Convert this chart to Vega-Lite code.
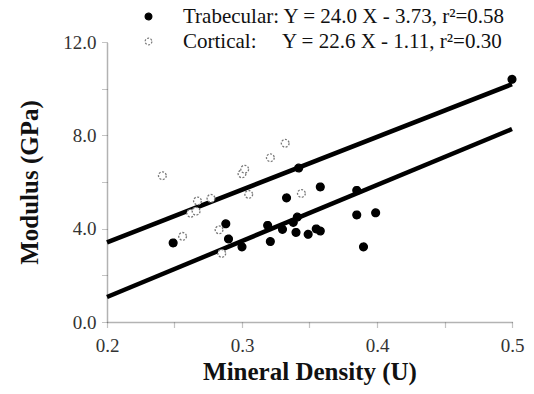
{
  "$schema": "https://vega.github.io/schema/vega-lite/v6.json",
  "width": 405,
  "height": 280,
  "autosize": {"type": "none"},
  "padding": {"left": 107, "top": 42, "right": 22, "bottom": 72},
  "background": "white",
  "config": {
    "view": {"stroke": null},
    "font": "Liberation Serif",
    "style": {"guide-label": {"font": "Liberation Serif"}, "guide-title": {"font": "Liberation Serif"}},
    "axis": {"labelFont": "Liberation Serif", "titleFont": "Liberation Serif"},
    "legend": {"labelFont": "Liberation Serif", "labelLimit": 0}
  },
  "datasets": {
    "points": [
      {"group": "Trabecular", "u": 0.249, "modulus": 3.39},
      {"group": "Trabecular", "u": 0.288, "modulus": 4.21},
      {"group": "Trabecular", "u": 0.290, "modulus": 3.56},
      {"group": "Trabecular", "u": 0.300, "modulus": 3.22},
      {"group": "Trabecular", "u": 0.319, "modulus": 4.14},
      {"group": "Trabecular", "u": 0.321, "modulus": 3.45},
      {"group": "Trabecular", "u": 0.330, "modulus": 3.97},
      {"group": "Trabecular", "u": 0.333, "modulus": 5.32},
      {"group": "Trabecular", "u": 0.338, "modulus": 4.27},
      {"group": "Trabecular", "u": 0.341, "modulus": 4.50},
      {"group": "Trabecular", "u": 0.340, "modulus": 3.84},
      {"group": "Trabecular", "u": 0.342, "modulus": 6.60},
      {"group": "Trabecular", "u": 0.349, "modulus": 3.76},
      {"group": "Trabecular", "u": 0.355, "modulus": 3.99},
      {"group": "Trabecular", "u": 0.358, "modulus": 3.90},
      {"group": "Trabecular", "u": 0.358, "modulus": 5.79},
      {"group": "Trabecular", "u": 0.385, "modulus": 5.64},
      {"group": "Trabecular", "u": 0.385, "modulus": 4.59},
      {"group": "Trabecular", "u": 0.399, "modulus": 4.68},
      {"group": "Trabecular", "u": 0.390, "modulus": 3.22},
      {"group": "Trabecular", "u": 0.500, "modulus": 10.4},
      {"group": "Cortical", "u": 0.241, "modulus": 6.27},
      {"group": "Cortical", "u": 0.256, "modulus": 3.67},
      {"group": "Cortical", "u": 0.262, "modulus": 4.66},
      {"group": "Cortical", "u": 0.266, "modulus": 4.75},
      {"group": "Cortical", "u": 0.267, "modulus": 5.19},
      {"group": "Cortical", "u": 0.277, "modulus": 5.30},
      {"group": "Cortical", "u": 0.283, "modulus": 3.95},
      {"group": "Cortical", "u": 0.285, "modulus": 2.94},
      {"group": "Cortical", "u": 0.300, "modulus": 6.35},
      {"group": "Cortical", "u": 0.302, "modulus": 6.55},
      {"group": "Cortical", "u": 0.305, "modulus": 5.47},
      {"group": "Cortical", "u": 0.321, "modulus": 7.04},
      {"group": "Cortical", "u": 0.332, "modulus": 7.66},
      {"group": "Cortical", "u": 0.344, "modulus": 5.51}
    ],
    "fits": [
      {"group": "Trabecular", "u": 0.2, "modulus": 1.07},
      {"group": "Trabecular", "u": 0.5, "modulus": 8.27},
      {"group": "Cortical", "u": 0.2, "modulus": 3.41},
      {"group": "Cortical", "u": 0.5, "modulus": 10.19}
    ]
  },
  "encoding": {
    "x": {
      "field": "u",
      "type": "quantitative",
      "scale": {"domain": [0.2, 0.5], "nice": false, "zero": false},
      "axis": {
        "title": "Mineral Density (U)",
        "values": [0.2, 0.25, 0.3, 0.35, 0.4, 0.45, 0.5],
        "labelExpr": "round(datum.value * 100) % 10 == 0 ? format(datum.value, '.1f') : ''",
        "grid": false,
        "domainColor": "#666",
        "domainDash": [1, 1],
        "domainWidth": 1.5,
        "tickColor": "#888",
        "tickDash": [1, 1],
        "tickWidth": 1.2,
        "tickSize": 6,
        "labelFont": "Liberation Serif",
        "labelFontSize": 19,
        "labelColor": "#333",
        "labelPadding": 8,
        "labelFlush": false,
        "titleFont": "Liberation Serif",
        "titleFontSize": 25,
        "titleFontWeight": "bold",
        "titleColor": "#111",
        "titlePadding": 4
      }
    },
    "y": {
      "field": "modulus",
      "type": "quantitative",
      "scale": {"domain": [0, 12], "nice": false},
      "axis": {
        "title": "Modulus (GPa)",
        "values": [0, 2, 4, 6, 8, 10, 12],
        "labelExpr": "datum.value % 4 == 0 ? format(datum.value, '.1f') : ''",
        "grid": false,
        "domainColor": "#666",
        "domainDash": [1, 1],
        "domainWidth": 1.5,
        "tickColor": "#888",
        "tickDash": [1, 1],
        "tickWidth": 1.2,
        "tickSize": 6,
        "labelFont": "Liberation Serif",
        "labelFontSize": 19,
        "labelColor": "#333",
        "labelPadding": 5,
        "labelFlush": false,
        "titleFont": "Liberation Serif",
        "titleFontSize": 25,
        "titleFontWeight": "bold",
        "titleColor": "#111",
        "titlePadding": 20
      }
    }
  },
  "layer": [
    {
      "data": {"name": "fits"},
      "mark": {"type": "line", "color": "black", "strokeWidth": 4.5, "clip": false},
      "encoding": {"detail": {"field": "group"}}
    },
    {
      "data": {"name": "points"},
      "mark": {"type": "point", "shape": "circle", "size": 60, "strokeWidth": 1.3, "opacity": 1},
      "encoding": {
        "fill": {
          "field": "group",
          "type": "nominal",
          "scale": {"domain": ["Trabecular", "Cortical"], "range": ["black", "white"]},
          "legend": {
            "title": null,
            "orient": "none",
            "legendX": 31,
            "legendY": -36,
            "labelFont": "Liberation Serif",
            "labelFontSize": 21,
            "labelColor": "#111",
            "labelOffset": 24,
            "labelLimit": 0,
            "symbolSize": 45,
            "symbolStrokeWidth": 1.2,
            "rowPadding": 3,
            "labelExpr": "datum.value == 'Trabecular' ? 'Trabecular: Y = 24.0 X - 3.73, r²=0.58' : 'Cortical:\u00a0\u00a0\u00a0\u00a0 Y = 22.6 X - 1.11, r²=0.30'"
          }
        },
        "stroke": {
          "field": "group",
          "type": "nominal",
          "scale": {"domain": ["Trabecular", "Cortical"], "range": ["black", "#777"]}
        },
        "strokeDash": {
          "field": "group",
          "type": "nominal",
          "scale": {"domain": ["Trabecular", "Cortical"], "range": [[1, 0], [2, 1.5]]},
          "legend": null
        }
      }
    }
  ]
}
